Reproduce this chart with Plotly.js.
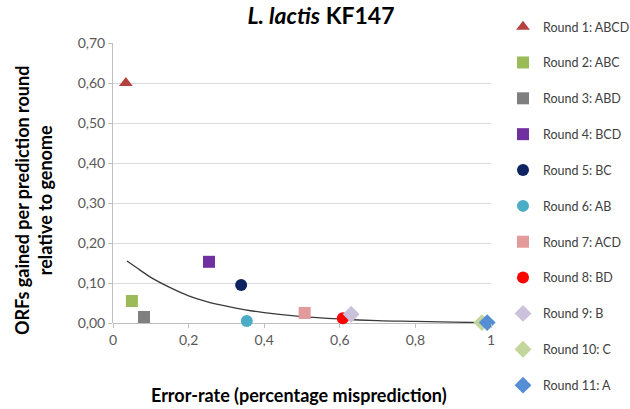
<!DOCTYPE html>
<html><head><meta charset="utf-8">
<script src="https://cdn.plot.ly/plotly-3.0.1.min.js"></script>
<style>html,body{margin:0;padding:0;background:#fff}#chart{width:630px;height:409px}</style>
</head><body><div id="chart"></div>
<script>
const roundNames = ["Round 1: ABCD","Round 2: ABC","Round 3: ABD","Round 4: BCD","Round 5: BC","Round 6: AB","Round 7: ACD","Round 8: BD","Round 9: B","Round 10: C","Round 11: A"];
const errorRate = [0.034, 0.05, 0.082, 0.254, 0.339, 0.354, 0.507, 0.608, 0.63, 0.976, 0.99];
const orfsGained = [0.60, 0.055, 0.015, 0.153, 0.095, 0.005, 0.025, 0.012, 0.022, 0.001, 0.001];
const symbols = ["triangle-up","square","square","square","circle","circle","square","circle","diamond","diamond","diamond"];
const colors = ["#b5413e","#9bbb59","#7f7f7f","#7030a0","#0e2460","#4bacc6","#e39a9a","#ff0000","#ccc1da","#c3d69b","#558ed5"];
const trendX = [0.037, 0.06, 0.1, 0.15, 0.2, 0.25, 0.3, 0.35, 0.4, 0.5, 0.6, 0.7, 0.8, 0.9, 0.99];
const trendY = [0.155, 0.140, 0.114, 0.089, 0.068, 0.053, 0.042, 0.033, 0.026, 0.016, 0.010, 0.006, 0.004, 0.002, 0.001];

const traces = [{
  x: trendX, y: trendY, mode: "lines", type: "scatter", showlegend: false,
  line: {color: "#3a3a3a", width: 1.3, shape: "spline"}, hoverinfo: "skip"
}];
roundNames.forEach((n, i) => {
  traces.push({
    x: [errorRate[i]], y: [orfsGained[i]], mode: "markers", type: "scatter", name: n,
    legendgroup: "g" + i, cliponaxis: false,
    marker: {symbol: symbols[i], color: colors[i], size: symbols[i] === "diamond" ? 13 : 12}
  });
});

const font = "Lato, 'Open Sans', sans-serif";
const layout = {
  width: 630, height: 409,
  margin: {l: 113, r: 139, t: 43, b: 86, autoexpand: false},
  paper_bgcolor: "#fff", plot_bgcolor: "#fff",
  separators: ", ",
  font: {family: font, color: "#595959", size: 14},
  title: {text: "<b><i>L. lactis</i> KF147</b>", x: 321/630, xanchor: "center", y: 1 - 16/409, yanchor: "middle",
          font: {family: font, size: 23, color: "#000"}},
  xaxis: {
    range: [0, 1], dtick: 0.2, tick0: 0, showgrid: false, zeroline: false,
    showline: false, ticks: "outside", ticklen: 4, tickcolor: "#bfbfbf",
    tickfont: {size: 14, color: "#595959"}
  },
  yaxis: {
    range: [0, 0.7], dtick: 0.1, tickformat: ".2f", showgrid: true, gridcolor: "#d9d9d9",
    zeroline: true, zerolinecolor: "#bfbfbf", zerolinewidth: 1,
    showline: true, linecolor: "#bfbfbf", ticks: "outside", ticklen: 4, tickcolor: "#bfbfbf",
    tickfont: {size: 14, color: "#595959"}
  },
  annotations: [
    {text: "<b>Error-rate (percentage misprediction)</b>", xref: "paper", yref: "paper",
     x: (299 - 113) / 378, y: -(395 - 323) / 280, xanchor: "center", yanchor: "middle",
     showarrow: false, font: {size: 18, color: "#000"}},
    {text: "<b>ORFs gained per prediction round<br>relative to genome</b>", xref: "paper", yref: "paper",
     x: -(113 - 33) / 378, y: (323 - 201) / 280, xanchor: "center", yanchor: "middle", textangle: -90,
     showarrow: false, font: {size: 18, color: "#000"}}
  ],
  showlegend: true,
  legend: {x: 503 / 630, xref: "container", xanchor: "left", y: 1 - 12 / 409, yref: "container", yanchor: "top",
           tracegroupgap: 16.6, maxheight: 1,
           font: {size: 12.5, color: "#404040"}, itemwidth: 30, bgcolor: "rgba(0,0,0,0)"}
};
Plotly.newPlot("chart", traces, layout, {displayModeBar: false, staticPlot: true});
</script></body></html>
